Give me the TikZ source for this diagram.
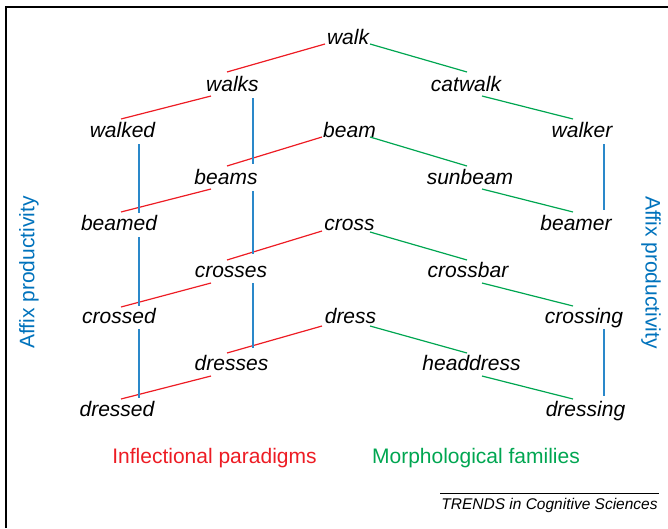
\documentclass[tikz,border=0pt]{standalone}
\usepackage{fontspec}
\setmainfont{Liberation Sans}
\definecolor{infred}{HTML}{ED1C24}
\definecolor{famgreen}{HTML}{00A651}
\definecolor{affblue}{HTML}{0072BC}
\definecolor{affline}{HTML}{2A88CA}
\begin{document}
\begin{tikzpicture}[x=1pt,y=-1pt,
  word/.style={inner sep=0pt,outer sep=0pt,anchor=base,
    font=\fontsize{21}{21}\selectfont\itshape},
  infl/.style={draw=infred,line width=1.2pt},
  fam/.style={draw=famgreen,line width=1.2pt},
  aff/.style={draw=affline,line width=1.2pt},
  caption/.style={inner sep=0pt,anchor=base,font=\fontsize{21}{21}\selectfont}]
\useasboundingbox (0,0) rectangle (668,528);

% frame
\draw[line width=2.2pt] (6.3,528) -- (6.3,7) -- (668,7);

% words
\node[word] (walk)      at (348,44)    {walk};
\node[word] (walks)     at (232.5,91)  {walks};
\node[word] (catwalk)   at (466,91)    {catwalk};
\node[word] (walked)    at (122.5,137) {walked};
\node[word] (beam)      at (349.5,137) {beam};
\node[word] (walker)    at (582,137)   {walker};
\node[word] (beams)     at (226,184)   {beams};
\node[word] (sunbeam)   at (470,184)   {sunbeam};
\node[word] (beamed)    at (119,230)   {beamed};
\node[word] (cross)     at (349.5,230) {cross};
\node[word] (beamer)    at (576,230)   {beamer};
\node[word] (crosses)   at (231,277)   {crosses};
\node[word] (crossbar)  at (468,277)   {crossbar};
\node[word] (crossed)   at (119,323)   {crossed};
\node[word] (dress)     at (350.5,323) {dress};
\node[word] (crossing)  at (584,323)   {crossing};
\node[word] (dresses)   at (231.5,370) {dresses};
\node[word] (headdress) at (471.5,370) {headdress};
\node[word] (dressed)   at (117,416)   {dressed};
\node[word] (dressing)  at (585.5,416) {dressing};

% inflectional links
\draw[infl] ([shift={(-23,0)}]walk.base)    -- ([shift={(-5.5,-19)}]walks.base);
\draw[infl] ([shift={(-21.5,5)}]walks.base) -- ([shift={(-1.5,-18)}]walked.base);
\draw[infl] ([shift={(-27.5,0)}]beam.base)  -- ([shift={(1,-18)}]beams.base);
\draw[infl] ([shift={(-15,5)}]beams.base)   -- ([shift={(2,-18)}]beamed.base);
\draw[infl] ([shift={(-27.5,1)}]cross.base) -- ([shift={(-4,-17)}]crosses.base);
\draw[infl] ([shift={(-20,6)}]crosses.base) -- ([shift={(2,-16)}]crossed.base);
\draw[infl] ([shift={(-28.5,3)}]dress.base) -- ([shift={(-4.5,-17)}]dresses.base);
\draw[infl] ([shift={(-20.5,6)}]dresses.base) -- ([shift={(4,-17)}]dressed.base);

% family links
\draw[fam] ([shift={(22,0)}]walk.base)      -- ([shift={(1,-19)}]catwalk.base);
\draw[fam] ([shift={(16,5)}]catwalk.base)   -- ([shift={(-9,-18)}]walker.base);
\draw[fam] ([shift={(20.5,0)}]beam.base)    -- ([shift={(-3,-18)}]sunbeam.base);
\draw[fam] ([shift={(12,5)}]sunbeam.base)   -- ([shift={(-3,-18)}]beamer.base);
\draw[fam] ([shift={(20.5,2)}]cross.base)   -- ([shift={(-1,-17)}]crossbar.base);
\draw[fam] ([shift={(14,6)}]crossbar.base)  -- ([shift={(-11,-17)}]crossing.base);
\draw[fam] ([shift={(19.5,3)}]dress.base)   -- ([shift={(-4.5,-17)}]headdress.base);
\draw[fam] ([shift={(10.5,6)}]headdress.base) -- ([shift={(-12.5,-17)}]dressing.base);

% affix links
\draw[aff] ([shift={(20.5,7)}]walks.base)   -- ([shift={(27,-20)}]beams.base);
\draw[aff] ([shift={(27,7)}]beams.base)     -- ([shift={(22,-23)}]crosses.base);
\draw[aff] ([shift={(22,6)}]crosses.base)   -- ([shift={(21.5,-22)}]dresses.base);
\draw[aff] ([shift={(16.5,7)}]walked.base)  -- ([shift={(20,-17)}]beamed.base);
\draw[aff] ([shift={(20,7)}]beamed.base)    -- ([shift={(20,-17)}]crossed.base);
\draw[aff] ([shift={(20,6)}]crossed.base)   -- ([shift={(22,-18)}]dressed.base);
\draw[aff] ([shift={(22,7)}]walker.base)    -- ([shift={(28,-20)}]beamer.base);
\draw[aff] ([shift={(20,6)}]crossing.base)  -- ([shift={(18.5,-20)}]dressing.base);

% side and bottom captions
\node[caption,anchor=center,rotate=90,text=affblue]  (affL) at (29,272.5)  {Affix productivity};
\node[caption,anchor=center,rotate=-90,text=affblue] (affR) at (651,272.5) {Affix productivity};
\node[caption,text=infred]   (inflcap) at (214.5,463) {Inflectional paradigms};
\node[caption,text=famgreen] (famcap)  at (476,463)   {Morphological families};

% journal credit
\draw[line width=0.9pt] (440,493) -- (659,493);
\node[inner sep=0pt,anchor=base,font=\fontsize{15.5}{15.5}\selectfont\itshape]
  (credit) at (549.5,509) {TRENDS in Cognitive Sciences};
\end{tikzpicture}
\end{document}
